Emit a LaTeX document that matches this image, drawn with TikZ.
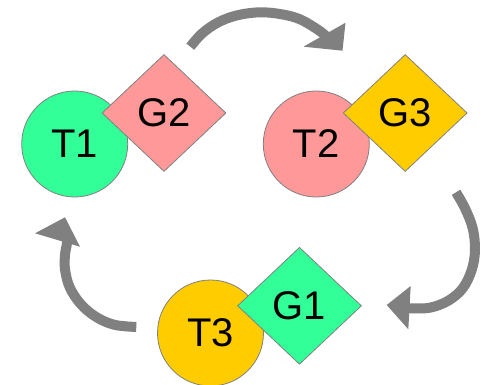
\documentclass[tikz,border=0pt]{standalone}
\usepackage{fontspec}
\setmainfont{Liberation Sans}
\usetikzlibrary{shapes.geometric}
\definecolor{tgreen}{HTML}{33FF99}
\definecolor{tpink}{HTML}{FF9999}
\definecolor{tgold}{HTML}{FFCC00}
\definecolor{edgegray}{HTML}{808080}
\begin{document}
\begin{tikzpicture}[x=1pt,y=-1pt,
  lbl/.style={font=\fontsize{40}{40}\selectfont, text=black},
  tcirc/.style={lbl, circle, draw=edgegray, line width=0.8pt, minimum size=106pt, inner sep=0pt},
  gdia/.style={lbl, diamond, draw=edgegray, line width=0.8pt, minimum width=124pt, minimum height=117pt, inner sep=0pt},
  cycbody/.style={draw=edgegray, line width=10pt},
  cychead/.style={fill=edgegray}]
\useasboundingbox (0,0) rectangle (482,385);

% task / group pairs
\node[tcirc, fill=tgreen] (T1) at (74.7,144) {T1};
\node[gdia, fill=tpink] (G2) at (164,113) {G2};
\node[tcirc, fill=tpink] (T2) at (316.3,144) {T2};
\node[gdia, fill=tgold] (G3) at (405.2,113) {G3};
\node[tcirc, fill=tgold] (T3) at (210.5,333) {T3};
\node[gdia, fill=tgreen] (G1) at (299.5,305.8) {G1};

% top arrow
\draw[cycbody] plot[smooth, tension=0.6] coordinates {(190.3,46.7) (202.3,33.3) (218.3,22.3) (237.3,15.3) (260,12.3) (281.7,14.3) (300,19.3) (317.3,29.3) (326,36)};
\fill[cychead] (303.5,46.7) -- (345.5,22.7) -- (342.5,50.7) -- cycle;

% right arrow
\draw[cycbody] plot[smooth, tension=0.6] coordinates {(456,192.3) (465,208.3) (472.7,228.3) (475,250) (471.7,270) (462.7,288.3) (448.3,300.7) (430,307.7) (411.7,308.3) (404,308.3)};
\fill[cychead] (386.7,305) -- (410.7,286) -- (408.3,329.3) -- cycle;

% left arrow
\draw[cycbody] plot[smooth, tension=0.6] coordinates {(136.3,327) (114,324.7) (95.7,316.7) (80.7,304) (69.7,287.3) (65,269.3) (65,255) (66.7,245) (67.5,238)};
\fill[cychead] (35,233.3) -- (65,217.3) -- (80,246.7) -- cycle;
\end{tikzpicture}
\end{document}
